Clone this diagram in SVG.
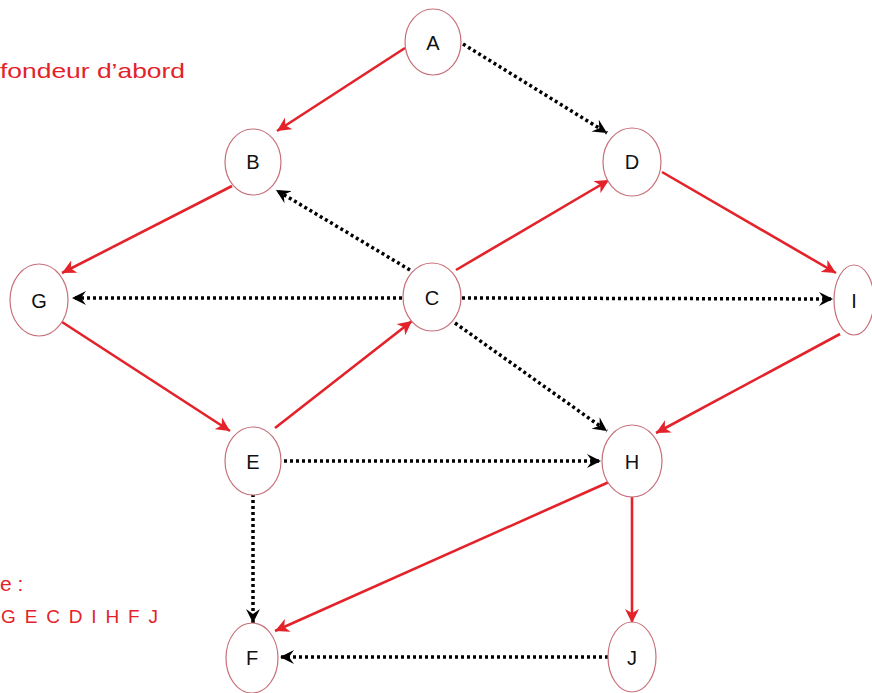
<svg xmlns="http://www.w3.org/2000/svg" width="872" height="693" viewBox="0 0 872 693">
<style>
.node ellipse{fill:#fff;stroke:#c8707a;stroke-width:1.2}
.node text{font-family:"Liberation Sans","DejaVu Sans",sans-serif;font-size:20px;fill:#111;text-anchor:middle;dominant-baseline:central}
.tree{stroke:#e3222a;stroke-width:2.6;fill:none;marker-end:url(#ar)}
.dot{stroke:#000;stroke-width:3.5;stroke-dasharray:3 3;fill:none;marker-end:url(#ab)}
.note{font-family:"Liberation Sans","DejaVu Sans",sans-serif;font-size:21px;fill:#e3222a}
</style>
<defs>
<marker id="ar" markerUnits="userSpaceOnUse" markerWidth="16" markerHeight="14" refX="14" refY="7" orient="auto">
<path d="M0,0 L14,7 L0,14 L4,7 z" fill="#e3222a"/>
</marker>
<marker id="ab" markerUnits="userSpaceOnUse" markerWidth="16" markerHeight="14" refX="14" refY="7" orient="auto">
<path d="M0,0 L14,7 L0,14 L5,7 z" fill="#000"/>
</marker>
</defs>
<rect width="872" height="693" fill="#fff"/>
<text class="note" x="0" y="78" textLength="185" lengthAdjust="spacingAndGlyphs">fondeur d’abord</text>
<text class="note" x="0" y="591">e :</text>
<text class="note" x="1" y="623" style="font-size:19px" textLength="157" lengthAdjust="spacing">G E C D I H F J</text>
<g id="edges">
<line class="tree" x1="405" y1="48" x2="277" y2="131"/>
<line class="dot" x1="463" y1="44" x2="607" y2="133"/>
<line class="tree" x1="232" y1="186" x2="62" y2="273"/>
<line class="dot" x1="410" y1="270" x2="276" y2="190"/>
<line class="dot" x1="402" y1="298" x2="72" y2="298"/>
<line class="tree" x1="456" y1="270" x2="609" y2="180"/>
<line class="dot" x1="462" y1="298" x2="833" y2="299"/>
<line class="dot" x1="455" y1="323" x2="607" y2="431"/>
<line class="tree" x1="662" y1="172" x2="836" y2="273"/>
<line class="tree" x1="840" y1="334" x2="656" y2="433"/>
<line class="tree" x1="62" y1="322" x2="230" y2="431"/>
<line class="tree" x1="275" y1="428" x2="412" y2="321"/>
<line class="dot" x1="284" y1="461" x2="601" y2="461"/>
<line class="dot" x1="253" y1="494" x2="253" y2="623"/>
<line class="tree" x1="609" y1="482" x2="275" y2="631"/>
<line class="tree" x1="632" y1="496" x2="632" y2="623"/>
<line class="dot" x1="608" y1="657" x2="280" y2="657"/>
</g>
<g id="A" class="node"><ellipse cx="433" cy="42" rx="28" ry="33"/><text x="433" y="43">A</text></g>
<g id="B" class="node"><ellipse cx="253" cy="162" rx="28" ry="33"/><text x="253" y="162">B</text></g>
<g id="D" class="node"><ellipse cx="632" cy="162" rx="29" ry="34"/><text x="632" y="162">D</text></g>
<g id="G" class="node"><ellipse cx="39" cy="300" rx="29" ry="36"/><text x="39" y="301">G</text></g>
<g id="C" class="node"><ellipse cx="432" cy="297" rx="29" ry="34"/><text x="432" y="298">C</text></g>
<g id="I" class="node"><ellipse cx="854" cy="300" rx="20" ry="35"/><text x="854" y="301">I</text></g>
<g id="E" class="node"><ellipse cx="253" cy="461" rx="28" ry="34"/><text x="253" y="462">E</text></g>
<g id="H" class="node"><ellipse cx="632" cy="461" rx="30" ry="36"/><text x="632" y="462">H</text></g>
<g id="F" class="node"><ellipse cx="252" cy="658" rx="26" ry="35"/><text x="252" y="658">F</text></g>
<g id="J" class="node"><ellipse cx="632" cy="657" rx="24" ry="35"/><text x="632" y="658">J</text></g>
</svg>
